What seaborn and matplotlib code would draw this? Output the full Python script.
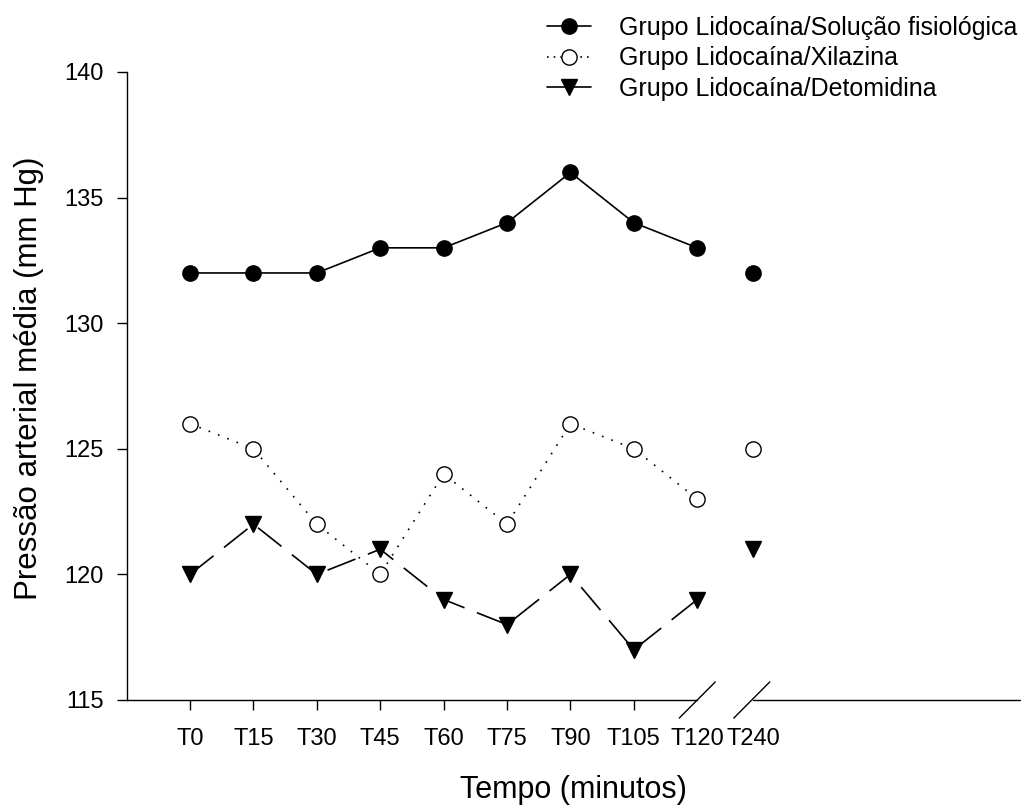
import matplotlib
matplotlib.use("Agg")
import matplotlib.pyplot as plt
from matplotlib.lines import Line2D
import seaborn as sns
import pandas as pd

# ---- data ----
time_labels = ["T0", "T15", "T30", "T45", "T60", "T75", "T90", "T105", "T120", "T240"]
x_pos = [0, 1, 2, 3, 4, 5, 6, 7, 8, 8.88]
solucao = [132, 132, 132, 133, 133, 134, 136, 134, 133, 132]
xilazina = [126, 125, 122, 120, 124, 122, 126, 125, 123, 125]
detomidina = [120, 122, 120, 121, 119, 118, 120, 117, 119, 121]
series_names = ["Grupo Lidocaína/Solução fisiológica",
                "Grupo Lidocaína/Xilazina",
                "Grupo Lidocaína/Detomidina"]

sns.set_style("ticks")
plt.rcParams["font.family"] = ["Liberation Sans", "DejaVu Sans"]
plt.rcParams["text.color"] = "black"
plt.rcParams["axes.labelcolor"] = "black"
plt.rcParams["xtick.color"] = "black"
plt.rcParams["ytick.color"] = "black"
plt.rcParams["axes.edgecolor"] = "black"

fig = plt.figure(figsize=(10.21, 8.07), dpi=100)
ax = fig.add_axes([127 / 1021, 107 / 807, 893 / 1021, 628 / 807])

lw = 1.2
ms = 11

styles = [
    dict(vals=solucao, marker="o", mfc="black", dashes=None),
    dict(vals=xilazina, marker="o", mfc="white", dashes=(1, 5)),
    dict(vals=detomidina, marker="v", mfc="black", dashes=(18, 8)),
]

for st in styles:
    df = pd.DataFrame({"x": x_pos[:9], "y": st["vals"][:9]})
    sns.lineplot(data=df, x="x", y="y", ax=ax, color="black", linewidth=lw,
                 marker=st["marker"], markersize=ms, markerfacecolor=st["mfc"],
                 markeredgecolor="black", markeredgewidth=1.0)
    line = ax.lines[-1]
    if st["dashes"] is not None:
        line.set_dashes(st["dashes"])
    ax.plot([x_pos[9]], [st["vals"][9]], linestyle="none", marker=st["marker"],
            markersize=ms, markerfacecolor=st["mfc"], markeredgecolor="black",
            markeredgewidth=1.0)

ax.set_ylim(115, 140)
ax.set_xlim(-0.994, 13.09)
ax.set_yticks([115, 120, 125, 130, 135, 140])
ax.set_xticks(x_pos)
ax.set_xticklabels(time_labels)
ax.tick_params(axis="both", labelsize=17, length=7, width=1, color="black",
               labelcolor="black", direction="out")
ax.tick_params(axis="y", pad=10)
ax.tick_params(axis="x", pad=13)
ticks = ax.xaxis.get_major_ticks()
ticks[8].tick1line.set_visible(False)
ticks[9].tick1line.set_visible(False)

for s in ["top", "right", "bottom"]:
    ax.spines[s].set_visible(False)
ax.spines["left"].set_color("black")
ax.spines["left"].set_linewidth(1)

# broken x axis
xl = ax.get_xlim()
tr = ax.get_xaxis_transform()
ax.plot([xl[0], x_pos[8]], [0, 0], transform=tr, color="black", lw=1, clip_on=False)
ax.plot([x_pos[9], xl[1]], [0, 0], transform=tr, color="black", lw=1, clip_on=False)
dx, dy = 0.284, 0.72
for xb in (x_pos[8] - 0.0, x_pos[9] - 0.02):
    ax.plot([xb - dx, xb + dx], [115 - dy, 115 + dy], color="black", lw=1,
            clip_on=False)

ax.set_xlabel("Tempo (minutos)", fontsize=22, labelpad=18, color="black")
ax.set_ylabel("Pressão arterial média (mm Hg)", fontsize=22.5, color="black")
ax.yaxis.set_label_coords(-0.093, 0.513)

handles = [
    Line2D([], [], color="black", lw=lw, marker="o", markersize=ms,
           markerfacecolor="black", markeredgecolor="black"),
    Line2D([], [], color="black", lw=lw, marker="o", markersize=ms,
           markerfacecolor="white", markeredgecolor="black", dashes=(1, 3)),
    Line2D([], [], color="black", lw=lw, marker="v", markersize=ms,
           markerfacecolor="black", markeredgecolor="black"),
]
leg = fig.legend(handles, series_names, loc="upper right",
                 bbox_to_anchor=(1.0, 0.985),
                 frameon=False, fontsize=18, handlelength=1.76, handletextpad=1.1,
                 labelspacing=0.26, borderaxespad=0.0, borderpad=0.15)
for t in leg.get_texts():
    t.set_color("black")

fig.savefig("out.png", dpi=100)
